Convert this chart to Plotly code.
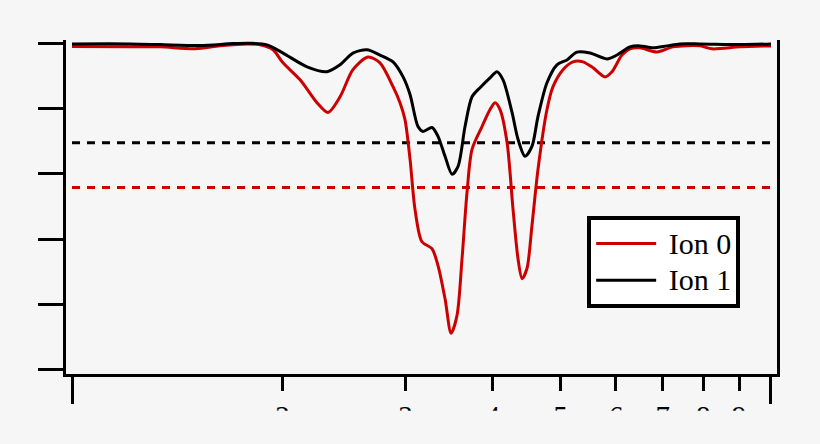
import plotly.graph_objects as go

# Ion 0 (red) curve
ion0_x = [1.000, 1.211, 1.336, 1.500, 1.628, 1.786, 1.858, 1.939, 2.004, 2.120,
          2.241, 2.324, 2.418, 2.523, 2.651, 2.758, 2.879, 2.946, 2.995, 3.045,
          3.095, 3.167, 3.273, 3.339, 3.417, 3.486, 3.555, 3.614, 3.674, 3.735,
          3.860, 3.963, 4.029, 4.096, 4.192, 4.275, 4.346, 4.404, 4.476, 4.550,
          4.642, 4.781, 4.877, 5.040, 5.208, 5.383, 5.564, 5.788, 5.923, 6.121,
          6.284, 6.494, 6.869, 7.241, 7.914, 8.234, 9.030, 10.0]
ion0_y = [0.990, 0.989, 0.989, 0.983, 0.992, 0.998, 0.995, 0.980, 0.940, 0.888,
          0.818, 0.788, 0.836, 0.919, 0.958, 0.940, 0.867, 0.818, 0.766, 0.645,
          0.492, 0.392, 0.371, 0.319, 0.218, 0.112, 0.167, 0.340, 0.544, 0.675,
          0.745, 0.797, 0.818, 0.797, 0.696, 0.492, 0.340, 0.279, 0.310, 0.441,
          0.614, 0.797, 0.867, 0.919, 0.943, 0.943, 0.925, 0.897, 0.913, 0.964,
          0.983, 0.986, 0.973, 0.989, 0.992, 0.983, 0.989, 0.992]

# Ion 1 (black) curve
ion1_x = [1.000, 1.211, 1.336, 1.525, 1.699, 1.798, 1.901, 2.004, 2.169, 2.316,
          2.418, 2.523, 2.642, 2.758, 2.879, 2.976, 3.045, 3.126, 3.178, 3.273,
          3.339, 3.417, 3.497, 3.567, 3.650, 3.735, 3.835, 3.963, 4.055, 4.137,
          4.261, 4.346, 4.447, 4.550, 4.642, 4.781, 4.941, 5.107, 5.277, 5.509,
          5.826, 6.021, 6.284, 6.494, 6.779, 7.099, 7.410, 7.914, 9.030, 10.0]
ion1_y = [0.998, 0.998, 0.996, 0.993, 0.999, 1.000, 0.995, 0.970, 0.928, 0.913,
          0.934, 0.970, 0.980, 0.964, 0.943, 0.897, 0.843, 0.745, 0.730, 0.742,
          0.715, 0.654, 0.599, 0.623, 0.745, 0.836, 0.864, 0.894, 0.913, 0.888,
          0.788, 0.706, 0.654, 0.684, 0.776, 0.879, 0.934, 0.949, 0.973, 0.970,
          0.952, 0.964, 0.989, 0.992, 0.986, 0.992, 0.998, 0.998, 0.996, 0.998]

# threshold levels (dashed lines)
threshold_x = [1.0, 10.0]
ion0_threshold = 0.558
ion1_threshold = 0.695

x_major = [2, 3, 4, 5, 6, 7, 8, 9]
x_labels = ["2", "3", "4", "5", "6", "7", "8", "9"]
x_decades = [1, 10]
y_ticks = [0, 0.2, 0.4, 0.6, 0.8, 1.0]

RED = "#cc0000"
BG = "#f6f6f6"
FONT = "Liberation Serif"

fig = go.Figure()

fig.add_trace(go.Scatter(
    x=threshold_x, y=[ion1_threshold] * 2, mode="lines", showlegend=False,
    line=dict(color="black", width=3, dash="8px,7px"), hoverinfo="skip"))
fig.add_trace(go.Scatter(
    x=threshold_x, y=[ion0_threshold] * 2, mode="lines", showlegend=False,
    line=dict(color=RED, width=3, dash="8px,7px"), hoverinfo="skip"))

# legend font is small so the rows sit close, the span makes the text bigger
fig.add_trace(go.Scatter(
    x=ion0_x, y=ion0_y, mode="lines",
    name='<span style="font-size:30px">&nbsp;Ion 0</span>',
    line=dict(color=RED, width=3, shape="spline", smoothing=0.8)))
fig.add_trace(go.Scatter(
    x=ion1_x, y=ion1_y, mode="lines",
    name='<span style="font-size:30px">&nbsp;Ion 1</span>',
    line=dict(color="black", width=3, shape="spline", smoothing=0.8)))

# the source image is cut off just below the top of the tick labels
fig.add_shape(type="rect", xref="paper", yref="paper",
              x0=-0.2, x1=1.2, y0=-0.3, y1=-0.110,
              fillcolor=BG, line=dict(width=0), layer="above")

fig.update_layout(
    width=820, height=444,
    margin=dict(l=66, r=43, t=40, b=68),
    paper_bgcolor=BG, plot_bgcolor=BG,
    font=dict(family=FONT, size=29, color="black"),
    legend=dict(x=0.733, y=0.473, xanchor="left", yanchor="top",
                bgcolor="white", bordercolor="black", borderwidth=4,
                font=dict(family=FONT, size=26), itemwidth=60,
                tracegroupgap=0),
)

fig.update_xaxes(
    type="log", range=[-0.0086, 1.0086],
    showgrid=False, zeroline=False,
    showline=True, linecolor="black", linewidth=3, mirror=False,
    tickmode="array", tickvals=x_major, ticktext=x_labels,
    ticks="outside", ticklen=14, tickwidth=3, tickcolor="black",
    tickfont=dict(family=FONT, size=29),
    minor=dict(tickmode="array", tickvals=x_decades, ticks="outside",
               ticklen=27, tickwidth=3, tickcolor="black", showgrid=False),
)
fig.update_yaxes(
    range=[-0.013, 1.010],
    showgrid=False, zeroline=False,
    showline=True, linecolor="black", linewidth=3, mirror=True,
    tickmode="array", tickvals=y_ticks, showticklabels=False,
    ticks="outside", ticklen=25, tickwidth=3, tickcolor="black",
)

fig.write_html("out.html", config={"displayModeBar": False},
               post_script="document.body.style.margin='0';"
                           "document.body.style.background='" + BG + "';")
